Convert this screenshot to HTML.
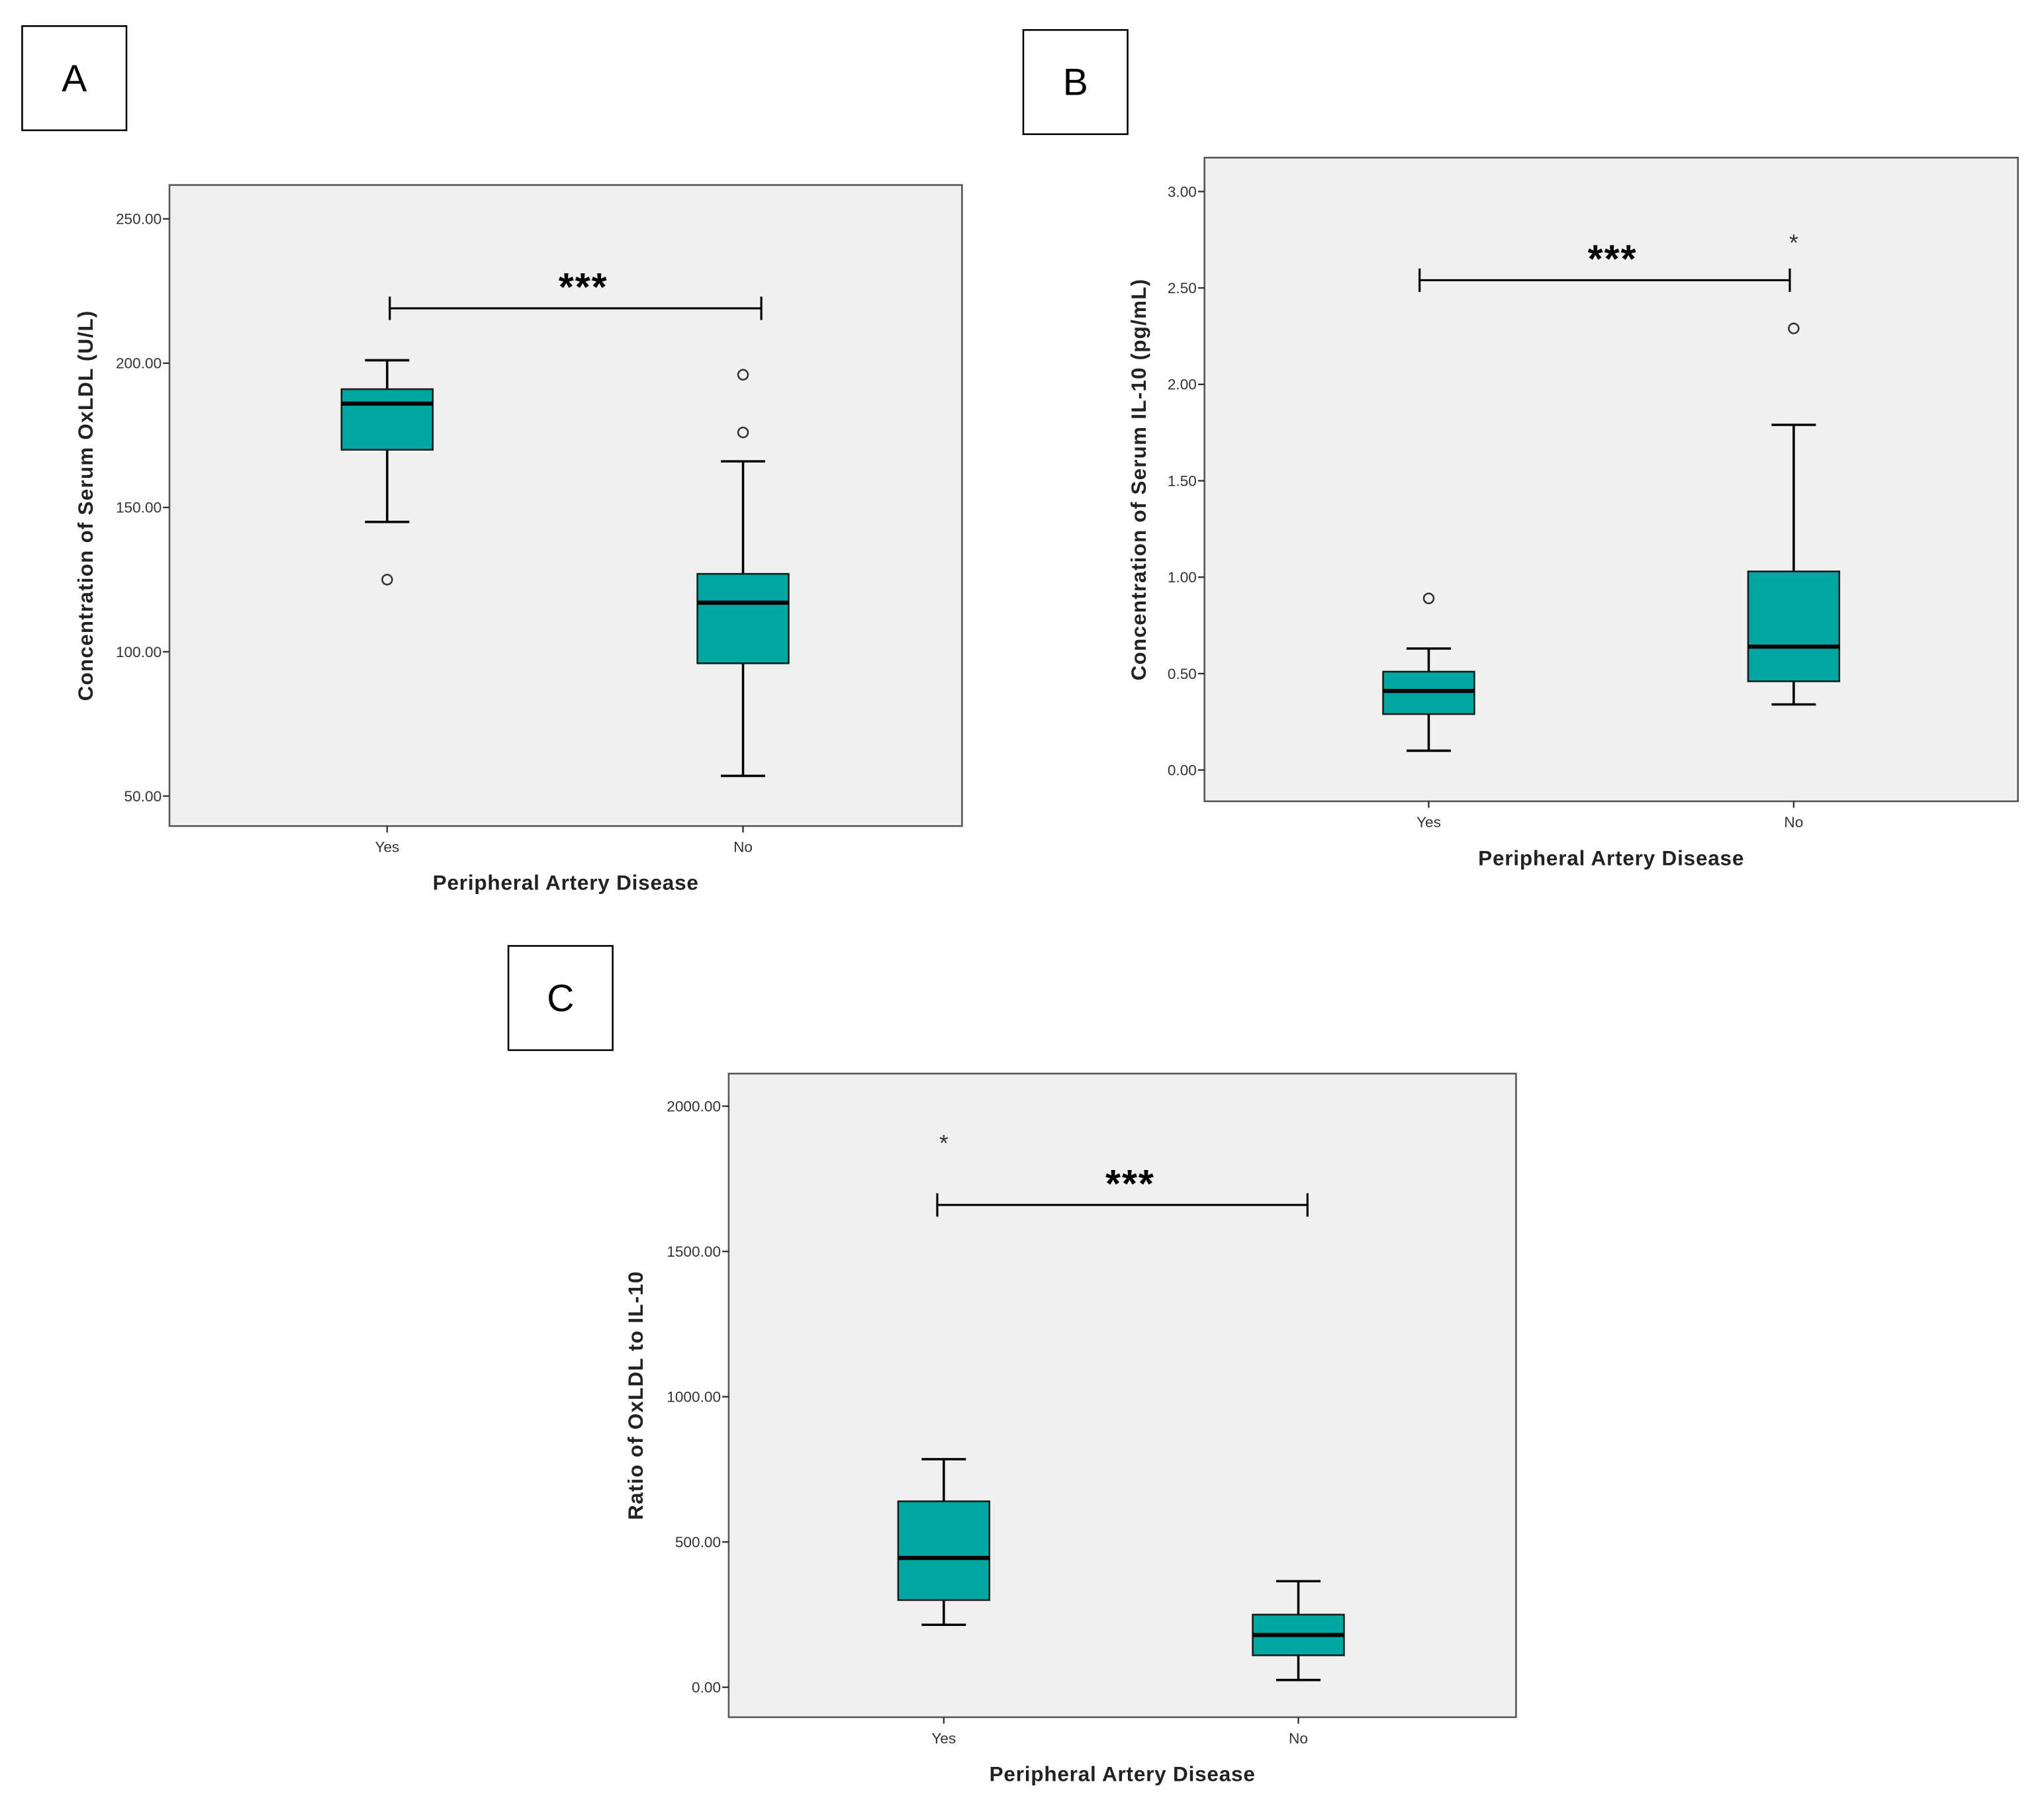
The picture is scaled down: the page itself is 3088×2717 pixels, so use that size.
<!DOCTYPE html>
<html><head><meta charset="utf-8"><style>
html,body{margin:0;padding:0;background:#fff;}
svg{display:block;font-family:"Liberation Sans",Arial,sans-serif;}
</style></head><body>
<svg id="fig" width="3088" height="2717" viewBox="0 0 1568 1380" preserveAspectRatio="none" xmlns="http://www.w3.org/2000/svg"></svg>
<script>
// ---- data (panel A) ----
const catsA = ["Yes","No"];
const ticksA = [50,100,150,200,250];
const tickLabelsA = ["50.00","100.00","150.00","200.00","250.00"];
const loA = [145,57], q1A = [170,96], medA = [186,117], q3A = [191,127], hiA = [201,166];
const circA = [[125],[176,196]];
const starA = [[],[]];
const bracketA = [219];
// ---- data (panel B) ----
const catsB = ["Yes","No"];
const ticksB = [0,0.5,1,1.5,2,2.5,3];
const tickLabelsB = ["0.00","0.50","1.00","1.50","2.00","2.50","3.00"];
const loB = [0.10,0.34], q1B = [0.29,0.46], medB = [0.41,0.64], q3B = [0.51,1.03], hiB = [0.63,1.79];
const circB = [[0.89],[2.29]];
const starB = [[],[2.76]];
const bracketB = [2.54];
// ---- data (panel C) ----
const catsC = ["Yes","No"];
const ticksC = [0,500,1000,1500,2000];
const tickLabelsC = ["0.00","500.00","1000.00","1500.00","2000.00"];
const loC = [215,25], q1C = [300,110], medC = [445,180], q3C = [640,250], hiC = [785,365];
const circC = [[],[]];
const starC = [[1890],[]];
const bracketC = [1660];

const NS="http://www.w3.org/2000/svg";
const svg=document.getElementById('fig');
function mk(tag,attrs,parent,text){const e=document.createElementNS(NS,tag);for(const k in attrs)e.setAttribute(k,attrs[k]);if(text!==undefined)e.textContent=text;(parent||svg).appendChild(e);return e;}

function panel(cfg){
  const g=mk('g',{});
  
  
  const lb=mk('rect',{x:cfg.lbox[0],y:cfg.lbox[1],width:80,height:80,fill:'#fff',stroke:'#000','stroke-width':1.3},g);
  
  
  const lt=mk('text',{x:cfg.lbox[0]+40,y:cfg.lbox[1]+50,'font-size':29,'text-anchor':'middle',fill:'#000'},g,cfg.id);
  
  
  const [px0,py0,px1,py1]=cfg.plot;
  const pr=mk('rect',{x:px0,y:py0,width:px1-px0,height:py1-py0,fill:'#f0f0f0',stroke:'#555','stroke-width':1.3},g);
  
  
  const [v0,v1]=cfg.domain,[y0,y1]=cfg.range;
  const ys=v=>y0+(v-v0)*(y1-y0)/(v1-v0);
  const xs=i=>cfg.xpos[i];
  cfg.ticks.forEach((t,i)=>{
    const y=ys(t);
    const tk=mk('line',{x1:px0-5,x2:px0,y1:y,y2:y,stroke:'#333','stroke-width':1.2},g);
    
    
    const tl=mk('text',{x:px0-6,y:y+4,'font-size':11.5,'text-anchor':'end',fill:'#333'},g,cfg.tickLabels[i]);
    
    
  });
  cfg.cats.forEach((c,i)=>{
    const x=xs(i);
    const tk=mk('line',{x1:x,x2:x,y1:py1,y2:py1+5,stroke:'#333','stroke-width':1.2},g);
    
    
    const tl=mk('text',{x:x,y:py1+20,'font-size':11.5,'text-anchor':'middle',fill:'#333'},g,c);
    
    
    const w=mk('line',{x1:x,x2:x,y1:ys(cfg.lo[i]),y2:ys(cfg.hi[i]),stroke:'#000','stroke-width':1.8},g);
    
    
    [cfg.lo[i],cfg.hi[i]].forEach(v=>{
      const cap=mk('line',{x1:x-17,x2:x+17,y1:ys(v),y2:ys(v),stroke:'#000','stroke-width':1.8},g);
      
      
    });
    const b=mk('rect',{x:x-35,y:ys(cfg.q3[i]),width:70,height:ys(cfg.q1[i])-ys(cfg.q3[i]),fill:'#00a6a2',stroke:'#1a1a1a','stroke-width':1.3},g);
    
    
    const m=mk('line',{x1:x-35,x2:x+35,y1:ys(cfg.med[i]),y2:ys(cfg.med[i]),stroke:'#000','stroke-width':3.2},g);
    
    
    cfg.circ[i].forEach(v=>{
      const o=mk('circle',{cx:x,cy:ys(v),r:3.8,fill:'none',stroke:'#333','stroke-width':1.3},g);
      
      
    });
    cfg.star[i].forEach(v=>{
      const s=mk('text',{x:x,y:ys(v)+10,'font-size':18,'text-anchor':'middle',fill:'#333'},g,'*');
      
      
    });
  });
  const by=ys(cfg.bracket[0]);const [bx0,bx1]=cfg.bx;
  const br=mk('path',{d:`M${bx0},${by-9}V${by+9}M${bx0},${by}H${bx1}M${bx1},${by-9}V${by+9}`,stroke:'#000','stroke-width':1.6,fill:'none'},g);
  
  
  const st=mk('text',{x:(bx0+bx1)/2+6,y:by-6,'font-size':30,'font-weight':'bold','text-anchor':'middle',fill:'#000','letter-spacing':'1'},g,'***');
  
  
  const xt=mk('text',{x:cfg.xtitle[0],y:cfg.xtitle[1],'font-size':16,'font-weight':'bold','text-anchor':'middle',fill:'#222','letter-spacing':'0.4'},g,'Peripheral Artery Disease');
  
  
  const yt=mk('text',{x:0,y:0,'font-size':16,'font-weight':'bold','text-anchor':'middle',fill:'#222','letter-spacing':'0.6',transform:`translate(${cfg.ytitle[0]},${cfg.ytitle[1]}) rotate(-90)`},g,cfg.ylabel);
  
  
}

panel({id:'A',lbox:[17,20],plot:[130,142,738,634],domain:[50,250],range:[611,168],ticks:ticksA,tickLabelsA:0,tickLabels:tickLabelsA,cats:catsA,xpos:[297,570],
  lo:loA,q1:q1A,med:medA,q3:q3A,hi:hiA,circ:circA,star:starA,bracket:bracketA,bx:[299,584],xtitle:[434,683],ytitle:[71,388],ylabel:'Concentration of Serum OxLDL (U/L)'});
panel({id:'B',lbox:[785,23],plot:[924,121,1548,615],domain:[0,3],range:[591,147],ticks:ticksB,tickLabels:tickLabelsB,cats:catsB,xpos:[1096,1376],
  lo:loB,q1:q1B,med:medB,q3:q3B,hi:hiB,circ:circB,star:starB,bracket:bracketB,bx:[1089,1373],xtitle:[1236,664],ytitle:[879,368],ylabel:'Concentration of Serum IL-10 (pg/mL)'});
panel({id:'C',lbox:[390,726],plot:[559,824,1163,1318],domain:[0,2000],range:[1295,849],ticks:ticksC,tickLabels:tickLabelsC,cats:catsC,xpos:[724,996],
  lo:loC,q1:q1C,med:medC,q3:q3C,hi:hiC,circ:circC,star:starC,bracket:bracketC,bx:[719,1003],xtitle:[861,1367],ytitle:[493,1071],ylabel:'Ratio of OxLDL to IL-10'});
</script>
</body></html>
